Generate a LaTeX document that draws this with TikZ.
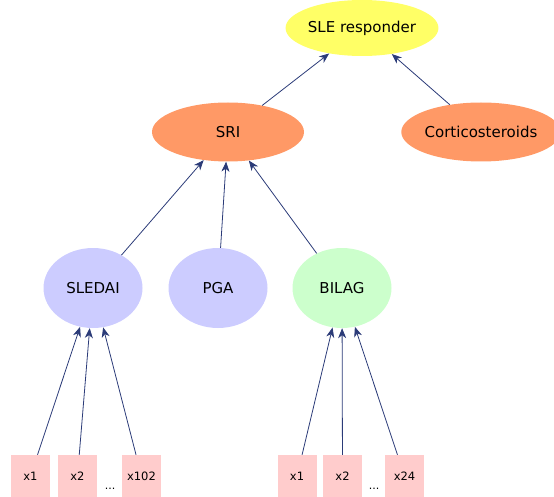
\documentclass[tikz,border=0pt]{standalone}
\usepackage{fontspec}
\setmainfont{DejaVu Sans}
\usetikzlibrary{shapes.geometric,arrows.meta}
\definecolor{edgeblue}{HTML}{2B3B78}
\definecolor{yel}{HTML}{FFFF66}
\definecolor{org}{HTML}{FF9966}
\definecolor{blu}{HTML}{CCCCFF}
\definecolor{grn}{HTML}{CCFFCC}
\definecolor{pnk}{HTML}{FFCCCC}
\tikzset{
  ell/.style={ellipse, inner sep=0pt, font=\fontsize{15}{17}\selectfont},
  varbox/.style={rectangle, fill=pnk, inner sep=0pt, minimum width=39pt, minimum height=42pt, font=\fontsize{11.5}{13}\selectfont},
  dots/.style={inner sep=0pt, font=\fontsize{11}{13}\selectfont},
  arr/.style={draw=edgeblue, line width=0.8pt, -{Stealth[length=10pt,width=8pt,inset=3pt]}}
}
\begin{document}
\begin{tikzpicture}[x=1pt,y=1pt]
\useasboundingbox (0,0) rectangle (554,-497);
\node[ell, fill=yel, minimum width=140pt, minimum height=56pt] (sle) at (362,-28) {SLE responder};
\node[ell, fill=org, minimum width=152pt, minimum height=59pt] (sri) at (228,-132) {SRI};
\node[ell, fill=org, minimum width=146pt, minimum height=59pt] (cort) at (481,-132) {Corticosteroids};
\node[ell, fill=blu, minimum width=99pt, minimum height=80pt] (sledai) at (93,-288) {SLEDAI};
\node[ell, fill=blu, minimum width=99pt, minimum height=80pt] (pga) at (218,-288) {PGA};
\node[ell, fill=grn, minimum width=99pt, minimum height=80pt] (bilag) at (342,-288) {BILAG};
\node[varbox] (a1) at (30.5,-476) {x1};
\node[varbox] (a2) at (77.5,-476) {x2};
\node[varbox] (a3) at (141.5,-476) {x102};
\node[dots] (d1) at (110,-489) {...};
\node[varbox] (b1) at (297,-476) {x1};
\node[varbox] (b2) at (342.5,-476) {x2};
\node[varbox] (b3) at (404.5,-476) {x24};
\node[dots] (d2) at (374,-489) {...};
\draw[arr] (sri) -- (sle);
\draw[arr] (cort) -- (sle);
\draw[arr] (sledai) -- (sri);
\draw[arr] (pga) -- (sri);
\draw[arr] (bilag) -- (sri);
\draw[arr] (a1) -- (sledai);
\draw[arr] (a2) -- (sledai);
\draw[arr] (a3) -- (sledai);
\draw[arr] (b1) -- (bilag);
\draw[arr] (b2) -- (bilag);
\draw[arr] (b3) -- (bilag);
\end{tikzpicture}
\end{document}
